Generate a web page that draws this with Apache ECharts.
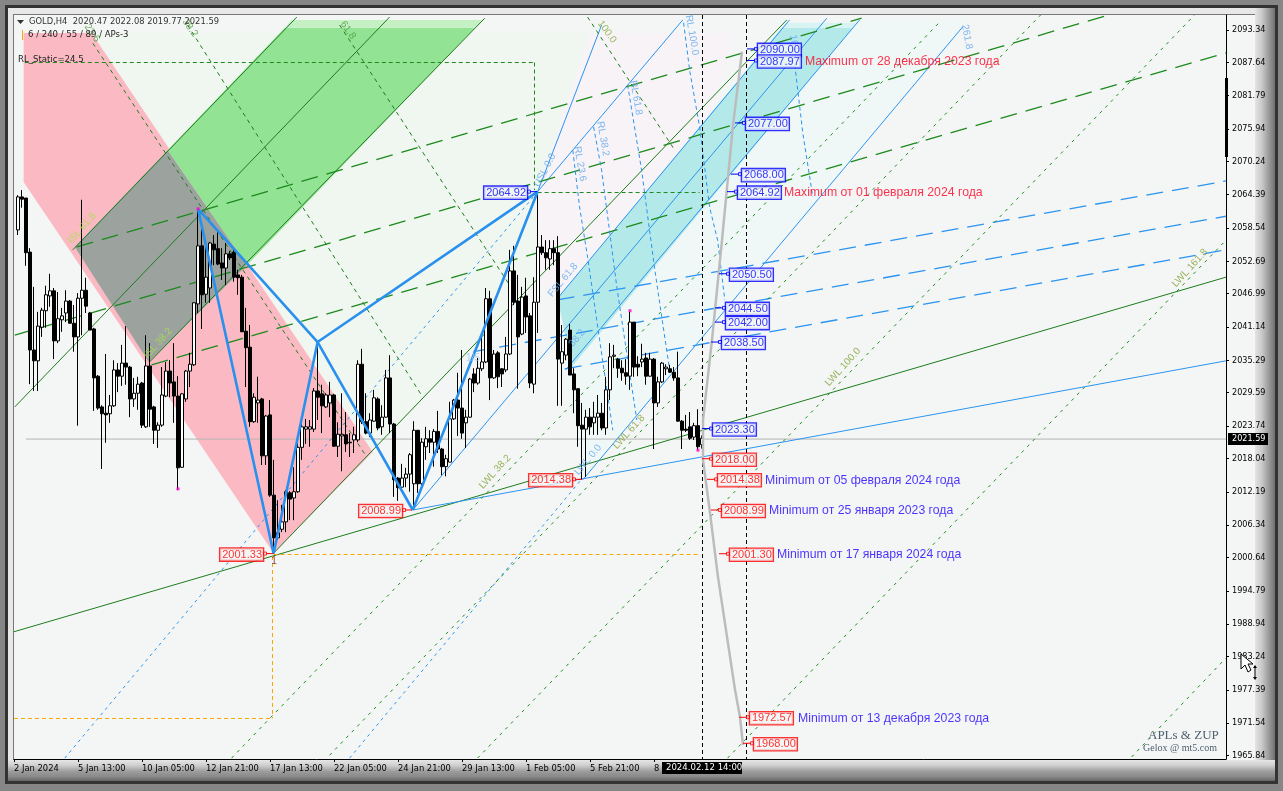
<!DOCTYPE html>
<html>
<head>
<meta charset="utf-8">
<title>GOLD,H4</title>
<script src="https://cdn.jsdelivr.net/npm/echarts@6/dist/echarts.min.js"></script>
<style>
  html, body { margin: 0; padding: 0; width: 1283px; height: 791px; overflow: hidden; background: #868686; }
  .frame { position: absolute; }
  #dark { left: 5px; top: 5px; width: 1273px; height: 779px; background: #333; }
  #bevel { left: 8px; top: 8px; width: 1267px; height: 773px; background: #e8e8e8; }
  #bevelRight { left: 1255px; top: 8px; width: 20px; height: 773px;
    background: linear-gradient(90deg, #e4e4e4, #c8c8c8 35%, #a0a0a0 65%, #707070); }
  #bevelBottom { left: 8px; top: 760px; width: 1267px; height: 21px;
    background: linear-gradient(180deg, #e6e6e6, #cfcfcf 25%, #9c9c9c 55%, #888 80%, #666); }
  #plot { left: 13px; top: 14px; width: 1242px; height: 746px; background: #f4f6f6;
    border-left: 1px solid #777; border-top: 1px solid #777; box-sizing: border-box; }
  #chart { position: absolute; left: 0; top: 0; width: 1283px; height: 791px; }
</style>
</head>
<body>
<div class="frame" id="dark"></div>
<div class="frame" id="bevel"></div>
<div class="frame" id="bevelRight"></div>
<div class="frame" id="bevelBottom"></div>
<div class="frame" id="plot"></div>
<div id="chart"></div>
<script>
// ── Candles (x = bar number, first bar is 1) ─────────────────────────────────

const candleOpen = [
  2058.2,2064.0,2063.8,2054.3,2037.1,2035.2,2041.1,2044.0,2046.6,2047.5,
  2038.7,2042.4,2043.6,2045.7,2041.8,2039.4,2046.2,2047.6,2043.6,2040.8,
  2032.5,2027.1,2026.0,2025.9,2027.3,2033.6,2032.5,2034.8,2034.1,2028.5,
  2029.5,2031.3,2023.6,2034.3,2027.1,2023.0,2023.9,2029.0,2033.4,2031.5,
  2029.0,2016.5,2028.5,2033.4,2034.5,2045.2,2055.4,2046.9,2048.0,2055.7,
  2054.9,2052.4,2051.5,2054.0,2054.3,2050.3,2049.9,2040.4,2037.6,2024.5,
  2027.8,2028.5,2018.5,2025.7,2011.6,2004.1,2005.6,2006.9,2012.0,2011.1,
  2012.2,2020.0,2023.2,2023.2,2023.2,2029.9,2029.4,2027.1,2027.8,2029.2,
  2020.2,2022.0,2022.2,2020.9,2021.3,2021.3,2034.6,2024.5,2022.5,2024.6,
  2028.5,2023.6,2025.3,2032.2,2024.1,2014.6,2013.0,2014.6,2015.3,2013.6,
  2023.0,2013.6,2020.1,2021.5,2020.9,2022.8,2019.7,2016.6,2017.4,2025.0,
  2028.3,2026.9,2024.3,2025.3,2032.9,2031.3,2033.8,2035.0,2046.1,2032.2,
  2036.6,2033.8,2033.6,2036.4,2051.0,2045.7,2039.9,2046.6,2043.1,2031.1,
  2045.5,2055.2,2054.2,2053.1,2054.9,2054.2,2034.8,2036.2,2040.6,2032.9,
  2030.3,2023.9,2023.2,2025.3,2024.3,2025.3,2026.0,2023.4,2030.1,2036.0,
  2035.5,2033.9,2033.1,2032.5,2042.0,2034.6,2035.0,2035.7,2032.5,2035.5,
  2027.8,2031.5,2033.8,2033.8,2033.2,2032.2,2024.6,2023.2,2023.6,2021.8,
  2023.8,2020.47,
];
const candleHigh = [
  2064.3,2065.2,2063.8,2055.0,2048.2,2043.8,2044.5,2048.4,2050.5,2048.0,
  2047.3,2044.5,2047.6,2045.9,2045.0,2047.1,2063.5,2049.8,2043.8,2041.0,
  2032.7,2027.4,2036.4,2029.2,2035.3,2034.8,2038.0,2041.3,2034.3,2032.2,
  2032.4,2031.5,2039.7,2038.3,2027.3,2024.4,2034.1,2035.0,2035.3,2038.3,
  2032.5,2029.5,2033.6,2036.6,2045.5,2061.7,2059.6,2055.6,2056.1,2057.3,
  2057.8,2055.0,2055.9,2054.5,2055.0,2051.2,2050.3,2044.5,2041.5,2029.5,
  2032.4,2028.7,2025.7,2028.3,2017.8,2010.7,2009.9,2012.5,2012.3,2016.5,
  2020.8,2024.8,2025.0,2024.8,2030.4,2038.3,2031.0,2029.5,2031.5,2029.4,
  2024.4,2029.5,2026.2,2022.5,2023.6,2035.3,2037.3,2029.5,2026.0,2030.1,
  2028.8,2027.4,2033.6,2036.2,2024.3,2014.8,2017.1,2016.4,2019.0,2024.6,
  2023.0,2021.6,2023.6,2023.0,2023.2,2026.4,2019.9,2018.7,2028.0,2028.5,
  2033.1,2037.1,2026.6,2032.2,2033.9,2035.7,2040.1,2048.0,2047.5,2037.1,
  2036.9,2033.9,2039.4,2054.7,2055.4,2050.3,2048.2,2049.8,2043.6,2049.9,
  2064.92,2057.3,2056.4,2056.4,2056.4,2057.1,2041.5,2039.2,2041.7,2033.9,
  2030.4,2027.8,2026.6,2026.9,2028.0,2029.2,2027.8,2032.4,2038.3,2038.0,
  2035.7,2035.3,2035.5,2043.8,2042.0,2036.0,2038.2,2036.6,2036.6,2035.7,
  2032.4,2035.0,2034.6,2034.5,2034.1,2036.8,2024.8,2025.7,2026.2,2024.3,
  2026.7,2022.08,
];
const candleLow = [
  2057.3,2062.1,2051.9,2031.1,2029.9,2029.9,2039.4,2041.0,2044.7,2035.5,
  2038.3,2040.3,2042.0,2041.8,2036.8,2023.8,2039.7,2043.6,2040.6,2026.4,
  2026.6,2016.2,2020.8,2024.3,2027.1,2029.7,2030.8,2031.0,2025.3,2027.1,
  2026.6,2023.4,2023.4,2023.6,2020.6,2019.9,2023.6,2028.8,2028.8,2024.3,
  2012.5,2016.4,2028.0,2030.6,2034.3,2043.6,2040.8,2045.4,2045.4,2052.0,
  2052.0,2049.4,2048.5,2052.9,2049.1,2046.8,2040.3,2030.6,2023.6,2024.3,
  2024.3,2016.9,2016.9,2011.3,2001.33,2003.7,2005.1,2005.1,2007.2,2007.2,
  2012.0,2017.8,2020.6,2020.1,2022.7,2024.8,2022.5,2026.9,2025.3,2020.1,
  2018.3,2015.8,2019.2,2018.3,2019.0,2020.9,2024.1,2022.3,2021.8,2024.5,
  2023.0,2022.2,2025.2,2022.5,2011.3,2010.6,2012.9,2013.0,2012.2,2009.0,
  2012.0,2012.5,2017.8,2019.0,2016.6,2019.0,2015.1,2014.9,2017.4,2024.8,
  2022.0,2021.5,2019.9,2025.2,2029.7,2031.0,2033.4,2034.8,2028.3,2032.0,
  2030.4,2030.6,2033.2,2036.2,2045.0,2030.3,2039.7,2040.1,2030.4,2029.5,
  2040.1,2053.8,2051.2,2051.2,2052.0,2027.3,2027.3,2035.3,2032.7,2026.0,
  2020.1,2014.38,2014.8,2022.2,2022.2,2022.2,2023.0,2022.2,2028.3,2033.9,
  2032.2,2031.7,2031.0,2030.1,2032.4,2032.5,2034.1,2031.0,2032.4,2019.7,
  2027.1,2031.3,2032.7,2033.1,2031.7,2024.5,2019.7,2022.7,2021.3,2021.3,
  2019.5,2019.77,
];
const candleClose = [
  2064.0,2063.6,2054.2,2037.1,2035.2,2041.3,2044.1,2046.8,2047.5,2038.7,
  2042.6,2043.1,2045.7,2041.8,2039.4,2046.2,2047.6,2044.8,2040.6,2032.2,
  2026.9,2025.9,2025.7,2027.3,2033.6,2032.5,2034.8,2034.1,2028.5,2029.5,
  2031.1,2023.9,2034.3,2026.7,2023.0,2023.9,2029.2,2033.4,2031.3,2029.0,
  2016.4,2029.4,2033.4,2034.6,2045.4,2055.4,2046.8,2049.9,2055.9,2054.7,
  2052.2,2051.5,2054.0,2053.3,2049.9,2049.8,2040.3,2037.5,2024.5,2028.8,
  2028.3,2018.5,2025.5,2011.6,2004.1,2005.0,2006.9,2012.2,2010.9,2012.2,
  2020.0,2023.6,2023.6,2023.6,2029.9,2028.8,2027.3,2029.2,2029.2,2020.2,
  2022.3,2022.3,2020.6,2020.8,2022.2,2034.6,2024.5,2022.5,2024.8,2028.7,
  2023.4,2025.3,2032.2,2024.1,2014.3,2012.9,2014.6,2015.3,2018.7,2023.0,
  2013.6,2020.9,2021.5,2020.9,2022.8,2019.7,2016.6,2018.0,2025.0,2028.3,
  2026.9,2022.5,2025.3,2032.0,2031.3,2033.9,2035.0,2046.1,2032.2,2036.4,
  2032.4,2032.9,2036.4,2051.0,2045.5,2039.4,2046.4,2042.9,2031.3,2045.5,
  2055.2,2054.2,2053.3,2054.9,2054.2,2035.5,2036.8,2039.0,2032.7,2030.1,
  2023.8,2023.2,2025.3,2023.6,2025.3,2026.0,2023.4,2030.1,2035.9,2036.2,
  2033.9,2033.1,2032.5,2042.0,2034.1,2034.1,2035.5,2032.5,2035.5,2027.8,
  2031.5,2034.8,2034.1,2033.2,2032.2,2024.6,2023.0,2023.0,2021.6,2023.8,
  2020.1,2021.59,
];

// ── Axes ─────────────────────────────────────────────────────────────────────

const barMax = 303;
const priceMin = 1965.24;
const priceMax = 2095.96;
const priceTicks = [
  2093.34,2087.64,2081.79,2075.94,2070.24,2064.39,2058.54,2052.69,2046.99,2041.14,2035.29,2029.59,
  2023.74,2018.04,2012.19,2006.34,2000.64,1994.79,1988.94,1983.24,1977.39,1971.54,1965.84,
];
const timeTicks = [0, 16, 32, 48, 64, 80, 96, 112, 128, 144, 160];
const timeLabels = [
  '2 Jan 2024','5 Jan 13:00','10 Jan 05:00','12 Jan 21:00','17 Jan 13:00','22 Jan 05:00',
  '24 Jan 21:00','29 Jan 13:00','1 Feb 05:00','5 Feb 21:00','8',
];
const lastPrice = 2021.59;

// ── Shaded zones: bars and prices of the corners ─────────────────────────────

const paleGreenBars = [19.4, 143.9, 130.9, 130.9, 89.7];
const paleGreenPrices = [2092.8, 2092.8, 2064.9, 2049.8, 2019.2];
const palePinkBars = [143.9, 180.2, 173.9, 135.9, 130.9, 130.9];
const palePinkPrices = [2092.8, 2092.8, 2078.4, 2046.2, 2049.8, 2064.9];
const paleCyanBars = [211.4, 238.4, 142.2, 137.7];
const paleCyanPrices = [2095.1, 2095.1, 2014.3, 2034.5];
const pinkBars = [2.4, 19.4, 89.7, 64.9, 2.4];
const pinkPrices = [2092.8, 2092.8, 2019.2, 2001.4, 2066.6];
const greenBars = [38.4, 67.7, 115.25, 58.2];
const greenPrices = [2072.2, 2093.7, 2093.7, 2052.0];
const greenTopBars = [67.7, 69.4, 117.25, 115.25];
const greenTopPrices = [2093.7, 2095.1, 2095.1, 2093.7];
const overlapBars = [15.2, 38.4, 58.2, 33.7];
const overlapPrices = [2055.2, 2072.2, 2052.0, 2035.0];
const cyanBars = [135.9, 191.9, 209.7, 139.4];
const cyanPrices = [2046.2, 2093.7, 2093.7, 2034.1];
const cyanTopBars = [191.9, 192.9, 210.7, 209.7];
const cyanTopPrices = [2093.7, 2094.6, 2094.6, 2093.7];

// ── Lines: each item is [bar, price, bar, price] ─────────────────────────────

const greenSolidLines = [
  [14.7, 2054.7, 70.7, 2095.6],
  [0.2, 2027.1, 93.9, 2095.6],
  [33.9, 2035.0, 117.7, 2095.4],
  [64.9, 2001.4, 193.2, 2095.1],
  [0, 1987.6, 303, 2049.9],
];
const blueSolidLines = [
  [99.7, 2009.0, 203.2, 2095.4],
  [142.2, 2014.3, 237.2, 2093.9],
  [135.9, 2046.2, 193.9, 2095.1],
  [137.9, 2033.6, 211.4, 2095.1],
  [130.9, 2064.92, 146.9, 2094.2],
  [130.9, 2064.92, 167.2, 2095.1],
  [99.7, 2009.0, 303, 2035.2],
];
const zigzagLines = [
  [46, 2061.9, 64.9, 2001.33],
  [64.9, 2001.33, 75.9, 2038.5],
  [75.9, 2038.5, 99.7, 2008.99],
  [99.7, 2008.99, 130.9, 2064.92],
  [46, 2061.9, 75.9, 2038.5],
  [75.9, 2038.5, 130.9, 2064.92],
];
const blueDottedLines = [
  [12.7, 1965.4, 130.9, 2064.9],
  [83.9, 1965.4, 141.9, 2014.4],
];
const blueLongDashLines = [
  [135.9, 2045.9, 303, 2066.8],
  [114.9, 2036.8, 303, 2060.6],
  [137.7, 2033.8, 303, 2054.7],
];
const greenLongDashLines = [
  [15.7, 2055.2, 211.9, 2095.4],
  [0.2, 2039.7, 273.9, 2096.0],
  [34.4, 2034.5, 303, 2089.3],
];
const greenFallingLines = [
  [19.7, 2091.0, 88.2, 2018.3],
  [43.4, 2094.2, 102.2, 2028.8],
  [81.4, 2094.2, 123.9, 2048.5],
  [143.4, 2095.6, 165.2, 2072.2],
];
const greenDottedLines = [
  [54.4, 1965.4, 231.4, 2094.7],
  [78.9, 1965.9, 256.7, 2096.0],
  [115.9, 1965.4, 295.2, 2096.0],
  [178.4, 1965.4, 303, 2056.4],
  [279.4, 1965.6, 303, 1983.0],
];
const orangeLines = [
  [64.9, 2001.17, 171.4, 2001.17],
  [64.625, 2000.9, 64.625, 1972.36],
  [0, 1972.36, 64.625, 1972.36],
];
const greenBoxLines = [
  [2.7, 2087.61, 130.125, 2087.61],
  [130.125, 2087.61, 130.125, 2065.2],
  [130.9, 2064.77, 171.4, 2064.77],
];
const blackDashLines = [
  [172.125, priceMax, 172.125, priceMin],
  [183.125, priceMax, 183.125, priceMin],
];
const lastPriceLine = [[3, 2021.45, barMax, 2021.45]];

// curved blue retracement lines, bar then price for each bend
const rl236 = [[139.7, 2072.2], [141.4, 2062.2], [143.4, 2053.4], [146.4, 2038.9], [149.7, 2023.0]];
const rl382 = [[144.9, 2076.3], [146.9, 2068.7], [150.7, 2048.2], [155.7, 2024.8]];
const rl618 = [[153.4, 2083.7], [156.9, 2068.7], [160.2, 2051.2], [163.9, 2033.6]];
const rl100 = [[167.4, 2094.6], [168.9, 2086.3], [171.4, 2076.3], [173.9, 2062.2], [175.9, 2056.4], [177.7, 2045.9]];
const rl1618 = [[195.2, 2087.2], [197.2, 2075.2], [199.7, 2064.0]];

const grayCurveBars = [182, 179.75, 177, 174.5, 172.25, 172.25, 174, 176, 180.25, 181.5, 182.25];
const grayCurvePrices = [2089.5, 2076.6, 2056.4, 2038.9, 2024.8, 2017.8, 2008.5, 1997.2, 1977.4, 1972.6, 1967.7];

// ── Price boxes and captions ─────────────────────────────────────────────────

const blueLevels = [2090, 2087.97, 2077, 2068, 2064.92, 2050.5, 2044.5, 2042, 2038.5, 2023.3];
const blueLevelBars = [183.25, 183.25, 180.25, 179.25, 178.25, 176.25, 175.25, 175.25, 174.25, 172];
const redLevels = [2018, 2014.38, 2008.99, 2001.3, 1972.57, 1968];
const redLevelBars = [172, 173.25, 174.25, 176.25, 181.25, 182.25];
const leftBluePrices = [2064.92];
const leftBlueBars = [130.75];
const leftRedPrices = [2014.38, 2008.99, 2001.33];
const leftRedBars = [142, 99.5, 64.75];

const captionTexts = [
  'Maximum от 28 декабря 2023 года', 'Maximum от 01 февраля 2024 года',
  'Minimum от 05 февраля 2024 года', 'Minimum от 25 января 2023 года',
  'Minimum от 17 января 2024 года', 'Minimum от 13 декабря 2023 года',
];
const captionBars = [197.75, 192.5, 187.75, 188.75, 190.75, 196];
const captionPrices = [2087.97, 2064.92, 2014.38, 2008.99, 2001.3, 1972.57];
const captionColors = ['#ff0022', '#ff0022', '#2200ff', '#2200ff', '#2200ff', '#2200ff'];

const fanTexts = ['ISL 61.8','ISL 38.2','RL 100.0','RL 61.8','RL 38.2','RL 23.6','161.8','261.8','100.0','61.8','38.2','23.6',
  'USL 0.0','FSL 61.8','38.2','LWL 38.2','LWL 0.0','LWL 61.8','LWL 100.0','LWL 161.8','1/5','1'];
const fanBars = [17,36,169.5,155.5,147.25,141.5,195.25,238.25,148.25,83.5,44,19.5,
  132.75,137.25,140.75,120.25,143.5,153.75,207.25,294,114.75,65];
const fanPrices = [2058.5,2038.3,2092.4,2081.4,2074.2,2069.8,2090.3,2092.1,2093.0,2093.3,2093.7,2092.8,
  2068.7,2049.4,2039.2,2015.7,2017.8,2022.7,2034.1,2051.5,2035.7,1999.9];
const fanAngles = [48,48,-80,-80,-80,-80,-80,-80,-55,-55,-55,-55,
  62,50,50,48,50,48,48,48,0,0];
const fanColors = ['#a6e04a','#a6e04a','#62a8ee','#62a8ee','#62a8ee','#62a8ee','#62a8ee','#62a8ee','#7fa82e','#4f9a3a','#4f9a3a','#4f9a3a',
  '#62a8ee','#62a8ee','#62a8ee','#7f9f30','#62a8ee','#7f9f30','#7f9f30','#7f9f30','#9cc4ee','#6a1010'];

const pivotBars = [46, 41, 154, 171];
const pivotPrices = [2061.9, 2012.7, 2044.0, 2019.5];

// ── Helpers ──────────────────────────────────────────────────────────────────

const narrow = '"DejaVu Sans Condensed", "Liberation Sans", sans-serif';
const plain = '"Liberation Sans", Arial, sans-serif';

function zone(bars, prices, color) {
  return {
    type: 'custom', coordinateSystem: 'cartesian2d', clip: true, silent: true, z: 1,
    data: [[bars[0], prices[0]]],
    renderItem: (params, api) => ({
      type: 'polygon',
      shape: { points: bars.map((b, i) => api.coord([b, prices[i]])) },
      style: { fill: color },
    }),
  };
}

function lineGroup(segments, color, width, dash, z = 2) {
  const data = [];
  segments.forEach(s => data.push([s[0], s[1]], [s[2], s[3]], ['-', '-']));
  return {
    type: 'line', data, symbol: 'none', silent: true, z, connectNulls: false,
    lineStyle: { color, width, type: dash },
  };
}

function pathLine(points, color, width, dash, z = 2) {
  return {
    type: 'line', data: points, symbol: 'none', silent: true, z,
    lineStyle: { color, width, type: dash },
  };
}

function levelBoxes(bars, prices, color, side, step) {
  // leader line from the curve to a small square, then the price box
  const leaders = prices.map((p, i) => [bars[i], p, bars[i] + step, p]);
  return [
    lineGroup(leaders, color, 1, 'solid', 5),
    {
      type: 'scatter', silent: true, z: 6,
      data: prices.map((p, i) => [bars[i] + step, p]),
      symbol: 'rect', symbolSize: 3,
      itemStyle: { color: '#f4f6f6', borderColor: color, borderWidth: 1 },
      label: {
        show: true, position: side, distance: 0, offset: [0, 1],
        formatter: d => d.value[1].toFixed(2),
        color, fontFamily: plain, fontSize: 11,
        backgroundColor: '#f4f6f6', borderColor: color, borderWidth: 1.3,
        padding: [1, 1, 0, 2],
      },
    },
  ];
}

// ── Chart ────────────────────────────────────────────────────────────────────

const candleData = candleOpen.map((o, i) => [i + 1, o, candleClose[i], candleLow[i], candleHigh[i]]);

const chart = echarts.init(document.getElementById('chart'), null, { renderer: 'canvas' });
chart.setOption({
  animation: false,
  backgroundColor: 'transparent',
  grid: { left: 14, top: 15, width: 1212, height: 744, containLabel: false },
  xAxis: {
    type: 'value', min: 0, max: barMax, position: 'bottom',
    splitLine: { show: false },
    axisLine: { show: true, onZero: false, lineStyle: { color: '#000' } },
    axisTick: { show: true, length: 3, customValues: timeTicks, lineStyle: { color: '#000' } },
    axisLabel: {
      show: true, customValues: timeTicks, align: 'left', margin: 5, hideOverlap: false,
      color: '#000', fontFamily: narrow, fontSize: 9.3,
      formatter: v => timeLabels[timeTicks.indexOf(v)],
    },
  },
  yAxis: {
    type: 'value', min: priceMin, max: priceMax, position: 'right', scale: true,
    splitLine: { show: false },
    axisLine: { show: true, onZero: false, lineStyle: { color: '#000' } },
    axisTick: { show: true, length: 3, customValues: priceTicks, lineStyle: { color: '#000' } },
    axisLabel: {
      show: true, customValues: priceTicks, margin: 6, hideOverlap: false,
      color: '#000', fontFamily: narrow, fontSize: 9,
      formatter: v => v.toFixed(2),
    },
  },
  series: [
    zone(paleGreenBars, paleGreenPrices, '#f0f6f0'),
    zone(palePinkBars, palePinkPrices, '#f7f3f7'),
    zone(paleCyanBars, paleCyanPrices, '#f0f7f7'),
    zone(pinkBars, pinkPrices, '#fbbac3'),
    zone(greenBars, greenPrices, '#93e395'),
    zone(greenTopBars, greenTopPrices, '#c4f0c4'),
    zone(overlapBars, overlapPrices, '#9ca39f'),
    zone(cyanBars, cyanPrices, '#b4e9ea'),
    zone(cyanTopBars, cyanTopPrices, '#d8f3f3'),

    lineGroup(lastPriceLine, '#b4b4b4', 1, 'solid'),
    lineGroup(greenSolidLines, '#1c7c1c', 1, 'solid'),
    lineGroup(blueSolidLines, '#2a94f0', 1, 'solid'),
    lineGroup(blueDottedLines, '#2a94f0', 1, [3, 4]),
    lineGroup(blueLongDashLines, '#2a94f0', 1.3, [17, 9]),
    lineGroup(greenLongDashLines, '#1c8a1c', 1.3, [17, 9]),
    lineGroup(greenFallingLines, '#1c7c1c', 1, [4, 4]),
    lineGroup(greenDottedLines, '#1c8a1c', 1, [3, 5]),
    lineGroup(orangeLines, '#ffa500', 1, [4, 3]),
    lineGroup(greenBoxLines, '#1c8a1c', 1, [4, 3]),
    pathLine(rl236, '#2a94f0', 1, [4, 3]),
    pathLine(rl382, '#2a94f0', 1, [4, 3]),
    pathLine(rl618, '#2a94f0', 1, [4, 3]),
    pathLine(rl100, '#2a94f0', 1, [4, 3]),
    pathLine(rl1618, '#2a94f0', 1, [4, 3]),

    {
      type: 'candlestick', data: candleData, z: 3, silent: true, barWidth: 3,
      encode: { x: 0, y: [1, 2, 3, 4] },
      itemStyle: { color: '#ffffff', color0: '#000000', borderColor: '#000000', borderColor0: '#000000', borderWidth: 1 },
    },

    lineGroup(blackDashLines, '#000', 1, [4, 3], 4),
    lineGroup(zigzagLines, '#2a90ee', 2.6, 'solid', 4),
    pathLine(grayCurveBars.map((b, i) => [b, grayCurvePrices[i]]), '#bcbcbc', 2.5, 'solid', 4),

    ...levelBoxes(blueLevelBars, blueLevels, '#0000ff', 'right', 2.25),
    ...levelBoxes(redLevelBars, redLevels, '#ff0000', 'right', 2.25),
    ...levelBoxes(leftBlueBars, leftBluePrices, '#0000ff', 'left', -2),
    ...levelBoxes(leftRedBars, leftRedPrices, '#ff0000', 'left', -2),

    {
      type: 'scatter', silent: true, z: 6, symbolSize: 0,
      data: captionTexts.map((t, i) => ({
        value: [captionBars[i], captionPrices[i]],
        label: { show: true, position: 'right', distance: 0, offset: [0, 1], formatter: t, color: captionColors[i], fontFamily: plain, fontSize: 12.25 },
      })),
    },
    {
      type: 'scatter', silent: true, z: 5, symbolSize: 0,
      data: fanTexts.map((t, i) => ({
        value: [fanBars[i], fanPrices[i]],
        label: { show: true, position: 'inside', rotate: fanAngles[i], formatter: t, color: fanColors[i], fontFamily: plain, fontSize: 10 },
      })),
    },
    {
      type: 'scatter', silent: true, z: 6, symbol: 'rect', symbolSize: 3,
      itemStyle: { color: '#ff00cc' },
      data: pivotBars.map((b, i) => [b, pivotPrices[i]]),
    },
  ],
  graphic: [
    // chart window captions and decorations outside the data
    { type: 'polygon', shape: { points: [[17, 20], [24, 20], [20.5, 24]] }, style: { fill: '#333' }, z: 20 },
    { type: 'text', left: 29, top: 17, style: { text: 'GOLD,H4  2020.47 2022.08 2019.77 2021.59', fill: '#333', font: '9.3px ' + narrow }, z: 20 },
    { type: 'rect', shape: { x: 22, y: 30, width: 1, height: 10 }, style: { fill: '#ffa500' }, z: 20 },
    { type: 'text', left: 28, top: 30, style: { text: '6 / 240 / 55 / 89 / APs-3', fill: '#222', font: '9.5px ' + narrow }, z: 20 },
    { type: 'text', left: 18, top: 55, style: { text: 'RL_Static=24.5', fill: '#222', font: '9.5px ' + narrow }, z: 20 },
    { type: 'text', left: 1148, top: 729, style: { text: 'APLs & ZUP', fill: '#4d5f6e', font: '13px "Liberation Serif", serif' }, z: 20 },
    { type: 'text', left: 1143, top: 743, style: { text: 'Gelox @ mt5.com', fill: '#4d5f6e', font: '10px "Liberation Serif", serif' }, z: 20 },
    { type: 'rect', shape: { x: 662, y: 762, width: 80, height: 12 }, style: { fill: '#000' }, z: 20 },
    { type: 'text', left: 666, top: 763, style: { text: '2024.02.12 14:00', fill: '#fff', font: '9.5px ' + narrow }, z: 21 },
    { type: 'rect', shape: { x: 1228, y: 433, width: 40, height: 12 }, style: { fill: '#000' }, z: 20 },
    { type: 'text', left: 1232, top: 434, style: { text: lastPrice.toFixed(2), fill: '#fff', font: '9px ' + narrow }, z: 21 },
    { type: 'rect', shape: { x: 1225, y: 78, width: 3, height: 79 }, style: { fill: '#000' }, z: 20 },
    { type: 'polygon', shape: { points: [[1241, 654], [1241, 669], [1245, 665], [1248, 672], [1251, 670], [1248, 664], [1253, 664]] }, style: { fill: '#fff', stroke: '#000', lineWidth: 1 }, z: 22 },
    { type: 'polyline', shape: { points: [[1255, 667], [1255, 678]] }, style: { stroke: '#000', lineWidth: 1 }, z: 22 },
    { type: 'polygon', shape: { points: [[1253, 668], [1257, 668], [1255, 665]] }, style: { fill: '#000' }, z: 22 },
    { type: 'polygon', shape: { points: [[1253, 677], [1257, 677], [1255, 680]] }, style: { fill: '#000' }, z: 22 },
  ],
});
</script>
</body>
</html>
